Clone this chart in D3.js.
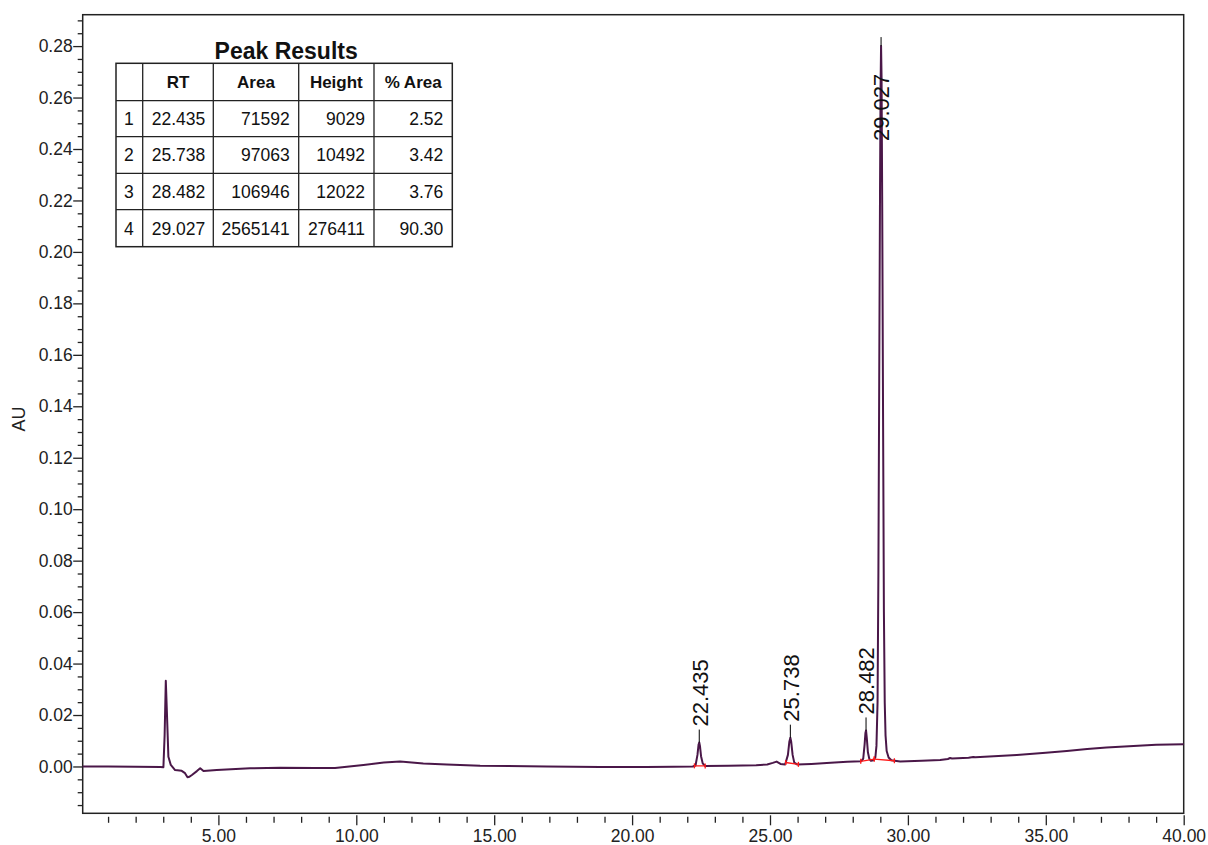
<!DOCTYPE html>
<html>
<head>
<meta charset="utf-8">
<script src="https://cdn.jsdelivr.net/npm/d3@7"></script>
<style>
  body { margin: 0; background: #fff; }
  svg { display: block; font-family: "Liberation Sans", Arial, sans-serif; }
</style>
</head>
<body>
<script>
const width = 1208;
const height = 845;

// chromatogram trace, retention time (min) vs absorbance (AU)
const rtMin = [0.08, 1.0, 2.0, 2.9, 3.006, 3.05, 3.093, 3.13, 3.187, 3.274, 3.43, 3.67, 3.79, 3.88, 3.95, 4.04,
  4.22, 4.34, 4.46, 4.94, 6.15, 7.24, 8.5, 9.23, 10.26, 11.0, 11.59, 12.43, 13.28, 14.49, 16.9, 18.84,
  20.5, 21.5, 22.20, 22.30, 22.37, 22.41, 22.435, 22.46, 22.50, 22.56, 22.65, 23.5, 24.5, 24.90, 25.10,
  25.24, 25.38, 25.55, 25.65, 25.70, 25.738, 25.77, 25.82, 25.88, 25.98, 26.5, 27.2, 27.8, 28.30, 28.38,
  28.43, 28.46, 28.482, 28.51, 28.55, 28.60, 28.66, 28.75, 28.82, 28.86, 28.90, 28.93, 28.96, 28.99,
  29.01, 29.027, 29.045, 29.07, 29.10, 29.13, 29.16, 29.19, 29.23, 29.30, 29.40, 29.72, 30.5, 31.17,
  31.45, 31.53, 31.6, 32.2, 32.37, 32.45, 33.95, 35.0, 35.76, 36.5, 37.2, 38.18, 39.0, 40.0];
const absAU = [0.0000, 0.0000, -0.0001, -0.0002, -0.0003, 0.0120, 0.0333, 0.0220, 0.0038, 0.0006, -0.0014,
  -0.0017, -0.0026, -0.0042, -0.0040, -0.0033, -0.0018, -0.0007, -0.0018, -0.0014, -0.0007, -0.0005,
  -0.0006, -0.0006, 0.0006, 0.0015, 0.0019, 0.0012, 0.0008, 0.0003, 0.0000, -0.0002, -0.0002, -0.0001,
  0.0000, 0.0004, 0.0045, 0.0085, 0.0093, 0.0080, 0.0040, 0.0012, 0.0002, 0.0003, 0.0005, 0.0008, 0.0014,
  0.0019, 0.0010, 0.0008, 0.0045, 0.0095, 0.0112, 0.0095, 0.0045, 0.0015, 0.0008, 0.0010, 0.0014, 0.0018,
  0.0020, 0.0030, 0.0085, 0.0130, 0.0140, 0.0110, 0.0055, 0.0030, 0.0022, 0.0024, 0.0035, 0.0080, 0.0250,
  0.0750, 0.1500, 0.2250, 0.2650, 0.2800, 0.2680, 0.2150, 0.1350, 0.0600, 0.0250, 0.0120, 0.0060, 0.0035,
  0.0024, 0.0019, 0.0022, 0.0025, 0.0029, 0.0033, 0.0031, 0.0034, 0.0037, 0.0036, 0.0045, 0.0053, 0.0060,
  0.0068, 0.0074, 0.0080, 0.0084, 0.0086];

// integrated peaks
const peakNo = ["1", "2", "3", "4"];
const peakRT = ["22.435", "25.738", "28.482", "29.027"];
const peakArea = ["71592", "97063", "106946", "2565141"];
const peakHeight = ["9029", "10492", "12022", "276411"];
const peakPctArea = ["2.52", "3.42", "3.76", "90.30"];
const peakStart = [22.26, 25.57, 28.29, 28.78];
const peakEnd = [22.65, 26.03, 28.78, 29.51];

const tableHeaders = ["", "RT", "Area", "Height", "% Area"];

const xMajorTicks = [5, 10, 15, 20, 25, 30, 35, 40];
const yMajorTicks = d3.range(0, 0.2801, 0.02);

const margin = { left: 82.7, right: 1183.7, top: 14.7, bottom: 813.3 };

const svg = d3.select('body')
  .append('svg')
  .attr('width', width)
  .attr('height', height);

const x = d3.scaleLinear().domain([0.08, 40]).range([margin.left, margin.right]);
const y = d3.scaleLinear().domain([-0.0182, 0.2922]).range([margin.bottom, margin.top]);

// y axis: minor then major ticks
const yMinor = d3.range(-0.015, 0.2901, 0.005).filter(v => Math.abs(Math.round(v * 50) - v * 50) > 1e-6);
svg.append('g')
  .attr('transform', `translate(${margin.left},0)`)
  .call(d3.axisLeft(y).tickValues(yMinor).tickSize(5).tickFormat(''))
  .call(g => g.select('.domain').remove())
  .call(g => g.selectAll('line').attr('stroke', '#222').attr('stroke-width', 1.3));

svg.append('g')
  .attr('transform', `translate(${margin.left},0)`)
  .call(d3.axisLeft(y).tickValues(yMajorTicks).tickSize(9.5).tickPadding(0.5).tickFormat(d3.format('.2f')))
  .call(g => g.select('.domain').remove())
  .call(g => g.selectAll('line').attr('stroke', '#222').attr('stroke-width', 1.3))
  .call(g => g.selectAll('text').attr('font-size', 17.5).attr('fill', '#222')
    .attr('font-family', '"Liberation Sans", Arial, sans-serif'));

// x axis (ticks sit a little below the frame)
const xMinor = d3.range(1, 40).filter(v => v % 5 !== 0);
svg.append('g')
  .attr('transform', `translate(0,${margin.bottom + 3.5})`)
  .call(d3.axisBottom(x).tickValues(xMinor).tickSize(6).tickFormat(''))
  .call(g => g.select('.domain').remove())
  .call(g => g.selectAll('line').attr('stroke', '#222').attr('stroke-width', 1.3));

svg.append('g')
  .attr('transform', `translate(0,${margin.bottom + 2})`)
  .call(d3.axisBottom(x).tickValues(xMajorTicks).tickSize(10).tickPadding(4.5).tickFormat(d3.format('.2f')))
  .call(g => g.select('.domain').remove())
  .call(g => g.selectAll('line').attr('stroke', '#222').attr('stroke-width', 1.3))
  .call(g => g.selectAll('text').attr('font-size', 17.5).attr('fill', '#222')
    .attr('font-family', '"Liberation Sans", Arial, sans-serif'));

// axis title
svg.append('text')
  .attr('transform', `translate(25,${(margin.top + margin.bottom) / 2 + 5}) rotate(-90)`)
  .attr('text-anchor', 'middle')
  .attr('font-size', 18)
  .attr('fill', '#222')
  .text('AU');

// plot frame
svg.append('rect')
  .attr('x', margin.left)
  .attr('y', margin.top)
  .attr('width', margin.right - margin.left)
  .attr('height', margin.bottom - margin.top)
  .attr('fill', 'none')
  .attr('stroke', '#222')
  .attr('stroke-width', 1.5);

// trace
const trace = rtMin.map((t, i) => [t, absAU[i]]);
const line = d3.line().x(d => x(d[0])).y(d => y(d[1]));

const plot = svg.append('g');
plot.append('path')
  .datum(trace)
  .attr('d', line)
  .attr('fill', 'none')
  .attr('stroke', '#4a1748')
  .attr('stroke-width', 2)
  .attr('stroke-linejoin', 'round');

// value of the trace at time t
const bis = d3.bisector(d => d[0]).left;
function traceAt(t) {
  const i = Math.max(1, Math.min(trace.length - 1, bis(trace, t)));
  const a = trace[i - 1], b = trace[i];
  return a[1] + (b[1] - a[1]) * (t - a[0]) / (b[0] - a[0]);
}

// integration baselines (red)
peakStart.forEach((s, i) => {
  const e = peakEnd[i];
  const ys = y(traceAt(s)), ye = y(traceAt(e));
  plot.append('line')
    .attr('x1', x(s)).attr('y1', ys).attr('x2', x(e)).attr('y2', ye)
    .attr('stroke', '#ff1a1a').attr('stroke-width', 1.3);
  [[s, ys], [e, ye]].forEach(p => {
    plot.append('line')
      .attr('x1', x(p[0])).attr('x2', x(p[0]))
      .attr('y1', p[1] - 2.5).attr('y2', p[1] + 2.5)
      .attr('stroke', '#ff1a1a').attr('stroke-width', 1.3);
  });
});

// peak labels
peakRT.forEach((rt, i) => {
  const t = +rt;
  const apex = d3.max(trace.filter(d => d[0] >= peakStart[i] && d[0] <= peakEnd[i]), d => d[1]);
  const px = x(t), py = y(apex);
  const labelLen = 70;
  const fits = py - 16 - labelLen > margin.top;
  const lineTop = fits ? py - 13 : py - 9;
  plot.append('line')
    .attr('x1', px).attr('x2', px)
    .attr('y1', py).attr('y2', lineTop)
    .attr('stroke', '#000').attr('stroke-width', 1);
  const textStart = fits ? py - 16 : py + 95;
  plot.append('text')
    .attr('transform', `translate(${px + 0.5},${textStart}) rotate(-90)`)
    .attr('dy', '0.36em')
    .attr('font-size', 22)
    .attr('fill', '#111')
    .text(rt);
});

// peak results table
const colEdges = [116, 142.7, 213.3, 298.7, 374, 452.3];
const rowEdges = [63.3, 100.7, 136.7, 173.3, 209.7, 246.7];
const tbl = svg.append('g');

tbl.append('text')
  .attr('x', (colEdges[0] + colEdges[5]) / 2 + 2)
  .attr('y', 59)
  .attr('text-anchor', 'middle')
  .attr('font-size', 23)
  .attr('font-weight', 'bold')
  .attr('fill', '#111')
  .text('Peak Results');

tbl.append('rect')
  .attr('x', colEdges[0]).attr('y', rowEdges[0])
  .attr('width', colEdges[5] - colEdges[0]).attr('height', rowEdges[5] - rowEdges[0])
  .attr('fill', '#fff').attr('stroke', '#222').attr('stroke-width', 1.5);
colEdges.slice(1, -1).forEach(cx => {
  tbl.append('line').attr('x1', cx).attr('x2', cx).attr('y1', rowEdges[0]).attr('y2', rowEdges[5])
    .attr('stroke', '#222').attr('stroke-width', 1.3);
});
rowEdges.slice(1, -1).forEach(ry => {
  tbl.append('line').attr('x1', colEdges[0]).attr('x2', colEdges[5]).attr('y1', ry).attr('y2', ry)
    .attr('stroke', '#222').attr('stroke-width', 1.3);
});

tableHeaders.forEach((h, c) => {
  tbl.append('text')
    .attr('x', (colEdges[c] + colEdges[c + 1]) / 2)
    .attr('y', (rowEdges[0] + rowEdges[1]) / 2)
    .attr('dy', '0.36em')
    .attr('text-anchor', 'middle')
    .attr('font-size', 17)
    .attr('font-weight', 'bold')
    .attr('fill', '#111')
    .text(h);
});

const columns = [peakNo, peakRT, peakArea, peakHeight, peakPctArea];
columns.forEach((col, c) => {
  col.forEach((val, r) => {
    const left = c <= 1;
    tbl.append('text')
      .attr('x', left ? colEdges[c] + (c === 0 ? 8 : 9) : colEdges[c + 1] - 9)
      .attr('y', (rowEdges[r + 1] + rowEdges[r + 2]) / 2)
      .attr('dy', '0.36em')
      .attr('text-anchor', left ? 'start' : 'end')
      .attr('font-size', 17.5)
      .attr('fill', '#111')
      .text(val);
  });
});
</script>
</body>
</html>
